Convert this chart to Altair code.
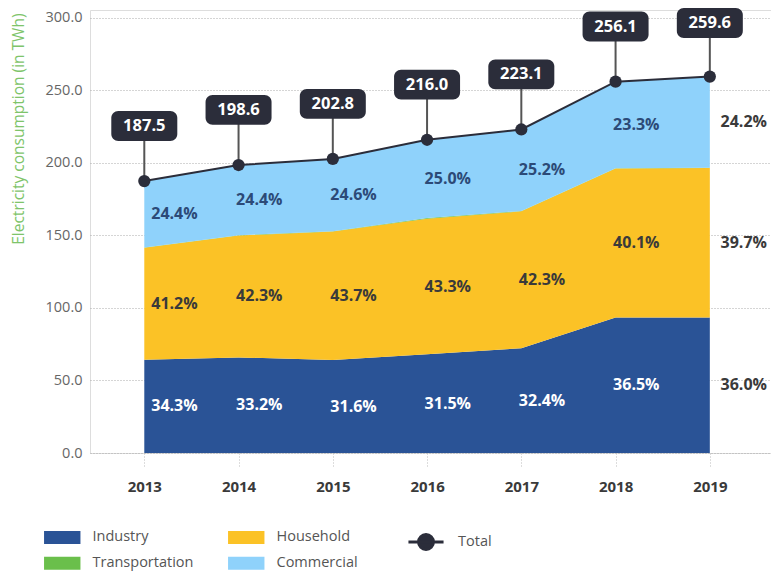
import altair as alt
import pandas as pd

years = [2013, 2014, 2015, 2016, 2017, 2018, 2019]
totals = [187.5, 198.6, 202.8, 216.0, 223.1, 256.1, 259.6]
industry_pct = [34.3, 33.2, 31.6, 31.5, 32.4, 36.5, 36.0]
household_pct = [41.2, 42.3, 43.7, 43.3, 42.3, 40.1, 39.7]
transport_pct = [0.1, 0.1, 0.1, 0.2, 0.1, 0.1, 0.1]
commercial_pct = [24.4, 24.4, 24.6, 25.0, 25.2, 23.3, 24.2]
sectors = ["Industry", "Household", "Transportation", "Commercial"]
sector_colors = ["#2a5396", "#fbc226", "#6abf4b", "#8fd2fb"]
label_colors = ["#ffffff", "#3a3a3a", "#3a3a3a", "#2c4a77"]
y_ticks = [0, 50, 100, 150, 200, 250, 300]

FONT = "Open Sans"
DARK = "#2b2d3a"

rows = []
for i, yr in enumerate(years):
    base = 0.0
    for k, (name, pcts) in enumerate(zip(sectors, [industry_pct, household_pct, transport_pct, commercial_pct])):
        v = totals[i] * pcts[i] / 100.0
        rows.append({"year": yr, "sector": name, "ord": k, "value": v,
                     "pct": f"{pcts[i]:.1f}%", "mid": base + v / 2})
        base += v
df = pd.DataFrame(rows)
tot = pd.DataFrame({"year": years, "total": totals, "series": ["Total"] * len(years)})

xscale = alt.Scale(domain=[2012.477, 2019.596], nice=False, zero=False)
yscale = alt.Scale(domain=[0, 305.5], nice=False)

x_enc = alt.X("year:Q", scale=xscale, axis=alt.Axis(
    values=years, format="d", grid=False, domain=False, ticks=True, tickSize=15,
    tickDash=[1, 2], tickColor="#bbbbbb", labelFontWeight="bold", labelFontSize=15,
    labelColor="#3a3a3a", labelPadding=11, labelFont=FONT, title=None))

area = alt.Chart(df).mark_area(interpolate="linear").encode(
    x=x_enc,
    y=alt.Y("value:Q", stack="zero", scale=yscale, axis=alt.Axis(
        values=y_ticks, format=".1f", grid=True, gridDash=[1, 2], gridColor="#aaaaaa",
        domain=False, ticks=False, labelPadding=8, labelFontSize=14.5, labelColor="#666666",
        labelFont=FONT, title="Electricity consumption (in TWh)", titleColor="#7ec46a",
        titleFontSize=15.5, titleFontWeight="normal", titleFont=FONT, titleAngle=270,
        titleX=-72, titleY=3, titleAlign="right", titleBaseline="middle")),
    fill=alt.Fill("sector:N", scale=alt.Scale(domain=sectors, range=sector_colors),
                  legend=alt.Legend(orient="none", legendX=-35, legendY=520, columns=2,
                                    direction="horizontal",
                                    title=None, symbolType="M-2.8,-1H2.8V1H-2.8Z",
                                    symbolSize=169, symbolStrokeWidth=0, labelOffset=23,
                                    rowPadding=11, columnPadding=34, padding=0,
                                    labelFontSize=14.5, labelColor="#555555", labelFont=FONT)),
    order=alt.Order("ord:Q", sort="ascending"),
)

inner = alt.Chart(df).transform_filter(
    "datum.year < 2019 && datum.sector != 'Transportation'"
).transform_calculate(
    lx="datum.year + (datum.year == 2013 ? 0.32 : 0.22)"
).mark_text(fontSize=16, fontWeight="bold", font=FONT).encode(
    x=alt.X("lx:Q", scale=xscale),
    y=alt.Y("mid:Q", scale=yscale),
    text="pct:N",
    color=alt.Color("sector:N", scale=alt.Scale(domain=sectors, range=label_colors), legend=None),
)

outer = alt.Chart(df).transform_filter(
    "datum.year == 2019 && datum.sector != 'Transportation'"
).transform_calculate(
    lx="datum.year + 0.36"
).mark_text(fontSize=16, fontWeight="bold", font=FONT, color="#3a3a3a").encode(
    x=alt.X("lx:Q", scale=xscale),
    y=alt.Y("mid:Q", scale=yscale),
    text="pct:N",
)

tbase = alt.Chart(tot).transform_calculate(
    bc="min(datum.total + 38, 296.5)"
).transform_calculate(
    blo="datum.bc - 10.3", bhi="datum.bc + 10.3"
)

rules = tbase.mark_rule(color="#555555", strokeWidth=2).encode(
    x=alt.X("year:Q", scale=xscale), y=alt.Y("total:Q", scale=yscale), y2="bc:Q")

line = tbase.mark_line(color=DARK, strokeWidth=2).encode(
    x=alt.X("year:Q", scale=xscale), y=alt.Y("total:Q", scale=yscale))

points = tbase.mark_point(filled=True, size=150, opacity=1).encode(
    x=alt.X("year:Q", scale=xscale), y=alt.Y("total:Q", scale=yscale),
    fill=alt.Fill("series:N", scale=alt.Scale(domain=["Total"], range=[DARK]),
                  legend=alt.Legend(orient="none", legendX=328, legendY=524, title=None,
                                    symbolType="M-2.7,0H2.7M1.15,0A1.15,1.15,0,1,1,-1.15,0A1.15,1.15,0,1,1,1.15,0Z",
                                    symbolSize=169, symbolStrokeColor=DARK, symbolStrokeWidth=3,
                                    labelOffset=24, padding=0, labelFontSize=14.5,
                                    labelColor="#555555", labelFont=FONT)),
)

boxes = tbase.mark_bar(width=66, cornerRadius=7, color=DARK).encode(
    x=alt.X("year:Q", scale=xscale), y=alt.Y("blo:Q", scale=yscale), y2="bhi:Q")

btext = tbase.mark_text(color="white", fontSize=16.5, fontWeight="bold", font=FONT).encode(
    x=alt.X("year:Q", scale=xscale), y=alt.Y("bc:Q", scale=yscale),
    text=alt.Text("total:Q", format=".1f"))

chart = alt.layer(area, inner, outer, rules, line, points, boxes, btext).resolve_scale(
    fill="independent"
).properties(
    width=681, height=443,
    autosize=alt.AutoSizeParams(type="none"),
    padding={"left": 82, "top": 2, "right": 0, "bottom": 118},
).configure_view(stroke=None).configure(font=FONT)

chart.save("out.html", embed_options={"renderer": "svg", "actions": False})
